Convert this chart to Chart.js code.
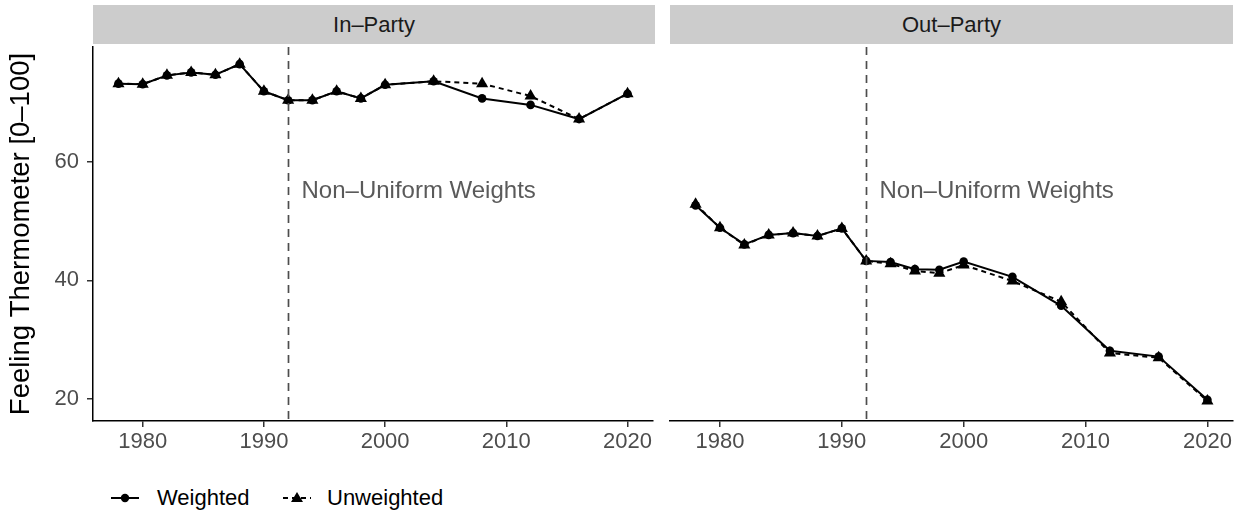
<!DOCTYPE html>
<html>
<head>
<meta charset="utf-8">
<script src="https://cdn.jsdelivr.net/npm/chart.js@4.4.1/dist/chart.umd.min.js"></script>
<style>
  body { margin:0; background:#fff; width:1245px; height:520px; position:relative; overflow:hidden;
         font-family:"Liberation Sans", Arial, sans-serif; }
  .strip { position:absolute; top:5px; height:39px; background:#cccccc; color:#1a1a1a; font-size:22px;
           display:flex; align-items:center; justify-content:center; }
  canvas { position:absolute; top:40px; }
  .key { position:absolute; top:487px; }
  .lab { position:absolute; top:485px; font-size:22px; color:#000; line-height:26px; }
</style>
</head>
<body>
<div class="strip" style="left:93px;width:562px">In–Party</div>
<div class="strip" style="left:670px;width:563px">Out–Party</div>
<canvas id="cL" width="660" height="425" style="left:0"></canvas>
<canvas id="cR" width="585" height="425" style="left:660px"></canvas>

<svg class="key" style="left:111px" width="28" height="22">
  <line x1="0" y1="11" x2="28" y2="11" stroke="#000" stroke-width="2"/>
  <circle cx="14" cy="11" r="4.2" fill="#000"/>
</svg>
<div class="lab" style="left:157px">Weighted</div>
<svg class="key" style="left:283px" width="28" height="22">
  <line x1="0" y1="11" x2="28" y2="11" stroke="#000" stroke-width="2" stroke-dasharray="5,4"/>
  <polygon points="14,5 20,15 8,15" fill="#000"/>
</svg>
<div class="lab" style="left:327px">Unweighted</div>

<script>
// survey years
const years = [1978, 1980, 1982, 1984, 1986, 1988, 1990, 1992, 1994, 1996, 1998, 2000, 2004, 2008, 2012, 2016, 2020];

// in-party feeling thermometer
const inWeighted   = [73.3, 73.2, 74.7, 75.2, 74.8, 76.6, 72.0, 70.5, 70.5, 72.0, 70.8, 73.1, 73.7, 70.8, 69.7, 67.3, 71.6];
const inUnweighted = [73.3, 73.2, 74.7, 75.2, 74.8, 76.6, 72.0, 70.5, 70.5, 72.0, 70.8, 73.1, 73.7, 73.3, 71.2, 67.3, 71.6];

// out-party feeling thermometer
const outWeighted   = [52.7, 48.9, 46.1, 47.7, 48.0, 47.5, 48.8, 43.3, 43.1, 41.9, 41.8, 43.2, 40.6, 35.7, 28.1, 27.1, 19.8];
const outUnweighted = [52.9, 48.9, 46.0, 47.7, 48.0, 47.5, 48.8, 43.3, 42.8, 41.6, 41.2, 42.6, 39.9, 36.4, 27.7, 26.9, 19.6];

const xTicks = [1980, 1990, 2000, 2010, 2020];
const yTicks = [20, 40, 60];
const weightsYear = 1992;
const weightsLabel = "Non–Uniform Weights";

const FONT = '"Liberation Sans", Arial, sans-serif';

const pts = arr => years.map((x, i) => ({ x: x, y: arr[i] }));

// dashed line at 1992 with its label
const weightsLine = {
    id: "weightsLine",
    afterDatasetsDraw(chart) {
        const { ctx, chartArea: a, scales: { x, y } } = chart;
        const px = Math.round(x.getPixelForValue(weightsYear)) + 0.5;
        ctx.save();
        ctx.strokeStyle = "#4d4d4d";
        ctx.lineWidth = 1.7;
        ctx.setLineDash([8, 6]);
        ctx.beginPath();
        ctx.moveTo(px, a.top);
        ctx.lineTo(px, a.bottom);
        ctx.stroke();
        ctx.setLineDash([]);
        ctx.fillStyle = "#5a5a5a";
        ctx.font = "24px " + FONT;
        ctx.textBaseline = "middle";
        ctx.fillText(weightsLabel, px + 13, y.getPixelForValue(55));
        ctx.restore();
    }
};

function makeChart(id, w, u, left) {
    return new Chart(document.getElementById(id), {
        type: "line",
        data: {
            datasets: [
                {
                    label: "Weighted",
                    data: pts(w),
                    borderColor: "#000",
                    backgroundColor: "#000",
                    borderWidth: 2,
                    pointStyle: "circle",
                    pointRadius: 4.3,
                    pointBorderWidth: 0,
                    clip: false,
                    order: 1
                },
                {
                    label: "Unweighted",
                    data: pts(u),
                    borderColor: "#000",
                    backgroundColor: "#000",
                    borderWidth: 2,
                    borderDash: [5, 4],
                    pointStyle: "triangle",
                    pointRadius: 7,
                    pointBorderWidth: 0,
                    clip: false,
                    order: 0
                }
            ]
        },
        options: {
            responsive: false,
            animation: false,
            layout: { padding: left ? { top: 4, right: 3, left: 0, bottom: 0 } : { top: 4, right: 12, left: 10, bottom: 0 } },
            plugins: { legend: { display: false }, tooltip: { enabled: false } },
            scales: {
                x: {
                    type: "linear",
                    min: 1975.9,
                    max: 2022.1,
                    afterBuildTicks: s => { s.ticks = xTicks.map(v => ({ value: v })); },
                    afterFit: s => { s.height = 44; s.paddingLeft = 0; s.paddingRight = 0; },
                    ticks: {
                        color: "#4d4d4d",
                        font: { size: 22, family: FONT },
                        padding: 2,
                        maxRotation: 0,
                        callback: v => String(v)
                    },
                    grid: { drawOnChartArea: false, drawTicks: true, tickLength: 6, color: "#333333", lineWidth: 1.5 },
                    border: { display: true, color: "#000", width: 1.5 }
                },
                y: {
                    display: left,
                    min: 16.2,
                    max: 79.5,
                    afterBuildTicks: s => { s.ticks = yTicks.map(v => ({ value: v })); },
                    afterFit: s => { s.width = left ? 93 : 0; s.paddingTop = 0; s.paddingBottom = 0; },
                    title: {
                        display: true,
                        text: "Feeling Thermometer [0–100]",
                        color: "#000",
                        font: { size: 27.5, family: FONT },
                        padding: { top: 5, bottom: 0 }
                    },
                    ticks: {
                        color: "#4d4d4d",
                        font: { size: 22, family: FONT },
                        padding: 8
                    },
                    grid: { drawOnChartArea: false, drawTicks: true, tickLength: 6, color: "#333333", lineWidth: 1.5 },
                    border: { display: true, color: "#000", width: 1.5 }
                }
            }
        },
        plugins: [weightsLine]
    });
}

makeChart("cL", inWeighted, inUnweighted, true);
makeChart("cR", outWeighted, outUnweighted, false);
</script>
</body>
</html>
